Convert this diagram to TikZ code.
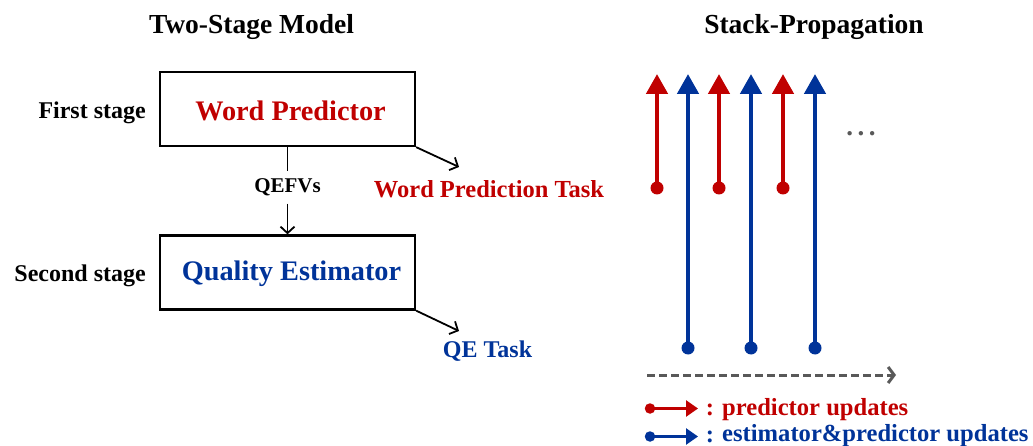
\documentclass[tikz,border=0pt]{standalone}
\usepackage{fontspec}
\setmainfont{Liberation Serif}
\usetikzlibrary{arrows.meta}
\definecolor{myred}{RGB}{192,0,0}
\definecolor{myblue}{RGB}{0,51,153}
\definecolor{mygray}{RGB}{89,89,89}
\begin{document}
\begin{tikzpicture}[x=1pt,y=-1pt,
  lbl/.style={inner sep=0pt,font=\bfseries\fontsize{24}{26}\selectfont},
  legtxt/.style={inner sep=0pt,font=\bfseries\fontsize{24.6}{26}\selectfont},
  ttl/.style={inner sep=0pt,font=\bfseries\fontsize{27.5}{30}\selectfont},
  boxtxt/.style={font=\bfseries\fontsize{28.3}{30}\selectfont},
  stagebox/.style={draw,line width=2.3pt,minimum width=255pt,minimum height=74pt,inner sep=0pt},
  blk/.style={line width=1.8pt},
  barb/.style={blk,-{Straight Barb[length=6.5pt,width=14pt,line width=1.8pt]}},
  dot/.style={circle,fill,inner sep=0pt,minimum size=13pt},
  ldot/.style={circle,fill,inner sep=0pt,minimum size=10.5pt},
  stk/.style={line width=4.6pt,-{Triangle[length=20pt,width=21pt]}},
  leg/.style={line width=2.6pt,-{Triangle[length=12pt,width=16pt]}}
]
\useasboundingbox (0,0) rectangle (1033,446);
% titles
\node[ttl] (t1) at (251.5,27) {Two-Stage Model};
\node[ttl] (t2) at (814,27) {Stack-Propagation};
% boxes
\node[stagebox] (wp) at (287.5,109) {};
\node[boxtxt,text=myred] (wpt) at (290.5,111) {Word Predictor};
\node[stagebox] (qe) at (287.5,272.5) {};
\node[boxtxt,text=myblue] (qet) at (291.5,274) {Quality Estimator};
\node[lbl,anchor=east] (fs) at (146,112.5) {First stage};
\node[lbl,anchor=east] (ss) at (146,275.5) {Second stage};
% QEFVs
\node[lbl,font=\bfseries\fontsize{21}{23}\selectfont,minimum height=32pt] (qefv) at (287.5,187.5) {QEFVs};
\draw[blk] (wp.south) -- (qefv.north);
\draw[barb] (qefv.south) -- (qe.north);
% tasks
\coordinate (wpend) at (459,167);
\coordinate (qeend) at (459,331);
\draw[barb] (wp.south east) -- (wpend);
\draw[barb] (qe.south east) -- (qeend);
\node[lbl,font=\bfseries\fontsize{24.5}{26}\selectfont,text=myred] (wptask) at (489,189) {Word Prediction Task};
\node[lbl,text=myblue] (qetask) at (487.5,351) {QE Task};
% stack arrows
\foreach \i/\x in {1/657,2/719,3/783}{
  \node[dot,myred] (rb\i) at (\x,188) {};
  \coordinate (rt\i) at (\x,74);
  \draw[stk,myred] (rb\i.center) -- (rt\i);
}
\foreach \i/\x in {1/688,2/751,3/815}{
  \node[dot,myblue] (bb\i) at (\x,348) {};
  \coordinate (bt\i) at (\x,74);
  \draw[stk,myblue] (bb\i.center) -- (bt\i);
}
\node[text=mygray,font=\bfseries\fontsize{27}{28}\selectfont] (dots) at (861,134) {.\,.\,.};
% time axis
\coordinate (ax1) at (647,375);
\coordinate (ax2) at (896,375);
\draw[mygray,line width=3pt,dash pattern=on 8pt off 4pt,-{Straight Barb[length=6pt,width=16pt,line width=3pt]}] (ax1) -- (ax2);
% legend
\node[ldot,myred] (l1a) at (650,408.5) {};
\coordinate (l1b) at (698,408.5);
\node[ldot,myblue] (l2a) at (650,436.5) {};
\coordinate (l2b) at (698,436.5);
\draw[leg,myred] (l1a.center) -- (l1b);
\draw[leg,myblue] (l2a.center) -- (l2b);
\node[legtxt,text=myred] (c1) at (710,410) {:};
\node[legtxt,text=myblue] (c2) at (710,437) {:};
\node[legtxt,anchor=west,text=myred] (lt1) at (722,409.5) {predictor updates};
\node[legtxt,anchor=west,text=myblue] (lt2) at (722,435.5) {estimator\&predictor updates};
\end{tikzpicture}
\end{document}
